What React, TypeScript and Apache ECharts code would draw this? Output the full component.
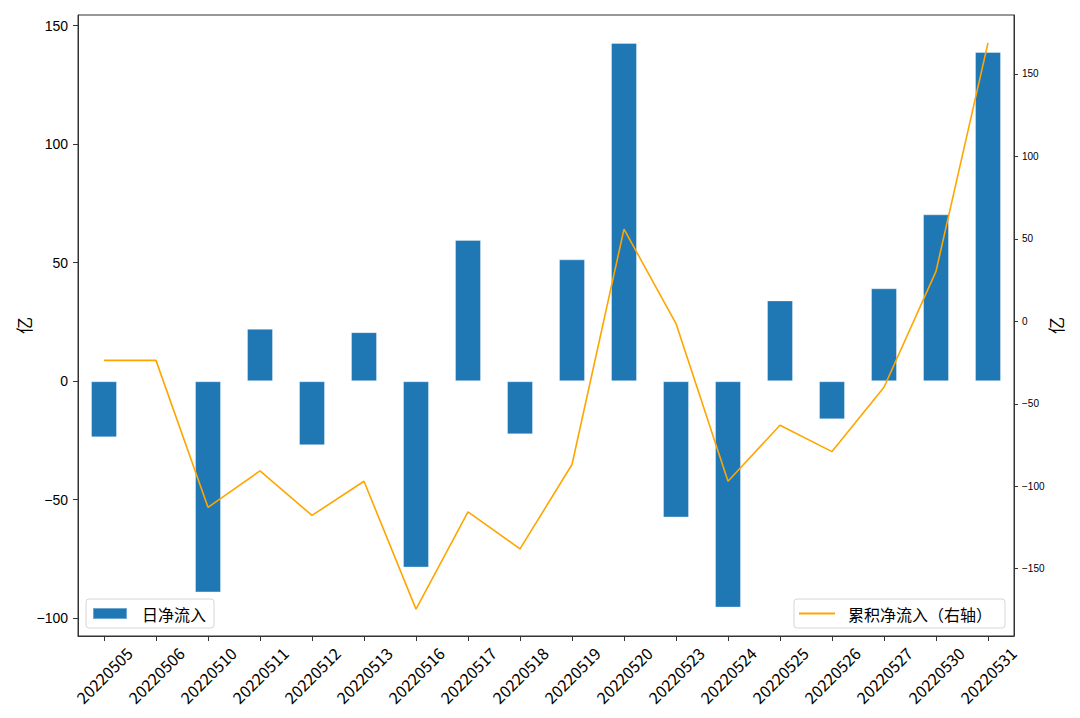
import React, { useEffect, useRef } from "react";
import * as echarts from "echarts";

const categories = [
  "20220505", "20220506", "20220510", "20220511", "20220512", "20220513",
  "20220516", "20220517", "20220518", "20220519", "20220520", "20220523",
  "20220524", "20220525", "20220526", "20220527", "20220530", "20220531",
];

// 日净流入 (亿)
const dailyNetInflow = [
  -23.7, 0, -89.1, 22.1, -27.0, 20.7, -78.6, 59.6, -22.4, 51.4, 142.7, -57.5,
  -95.5, 34.1, -16.1, 39.2, 70.4, 138.9,
];

// 累积净流入（右轴）(亿)
const cumulativeNetInflow = [
  -23.7, -23.7, -112.8, -90.7, -117.7, -97.0, -174.5, -115.5, -138.0, -86.8,
  55.9, -1.4, -97.0, -63.0, -79.0, -40.0, 30.3, 168.8,
];

const leftTicks = [-100, -50, 0, 50, 100, 150];
const rightTicks = [-150, -100, -50, 0, 50, 100, 150];

const fmt = (v: number) => (v < 0 ? "\u2212" + Math.abs(v) : String(v));

export default function App() {
  const ref = useRef<HTMLDivElement>(null);
  useEffect(() => {
    if (!ref.current) return;
    const chart = echarts.init(ref.current, null, { renderer: "svg" });
    const cjk = "'Noto Sans CJK SC', sans-serif";
    const num = "'Liberation Sans', Arial, sans-serif";
    chart.setOption({
      animation: false,
      backgroundColor: "#ffffff",
      grid: {
        left: 78,
        right: 66,
        top: 15,
        bottom: 82,
        show: true,
        borderColor: "#333",
        borderWidth: 1,
        containLabel: false,
      },
      legend: [
        {
          data: ["日净流入"],
          left: 86,
          top: 599,
          orient: "horizontal",
          icon: "rect",
          itemWidth: 34,
          itemHeight: 11,
          padding: [6, 8, 6, 6],
          backgroundColor: "rgba(255,255,255,0.8)",
          borderColor: "#d6d6d6",
          borderWidth: 1,
          borderRadius: 3,
          textStyle: {
            fontFamily: cjk,
            fontSize: 16,
            color: "#000",
            lineHeight: 17,
            padding: [0, 0, 0, 10],
          },
        },
        {
          data: ["累积净流入（右轴）"],
          right: 75,
          top: 599,
          orient: "horizontal",
          icon: "rect",
          itemWidth: 36,
          itemHeight: 2,
          padding: [6, 13, 6, 5],
          backgroundColor: "rgba(255,255,255,0.8)",
          borderColor: "#d6d6d6",
          borderWidth: 1,
          borderRadius: 3,
          textStyle: {
            fontFamily: cjk,
            fontSize: 16,
            color: "#000",
            lineHeight: 17,
            padding: [0, 0, 0, 8],
          },
        },
      ],
      xAxis: {
        type: "category",
        data: categories,
        boundaryGap: true,
        axisLine: { show: true, onZero: false, lineStyle: { color: "#333", width: 1 } },
        axisTick: { show: true, alignWithLabel: true, length: 5, lineStyle: { color: "#333" } },
        axisLabel: {
          rotate: 45,
          interval: 0,
          margin: 39,
          align: "center",
          verticalAlign: "middle",
          fontFamily: cjk,
          fontSize: 16,
          color: "#000",
        },
        splitLine: { show: false },
      },
      yAxis: [
        {
          type: "value",
          min: -107.5,
          max: 154.5,
          name: "亿",
          nameLocation: "middle",
          nameRotate: 90,
          nameGap: 46,
          nameMoveOverlap: false,
          nameTextStyle: { fontFamily: cjk, fontSize: 17, color: "#000" },
          axisLine: { show: true, lineStyle: { color: "#333" } },
          axisTick: { show: true, length: 5, lineStyle: { color: "#333" }, customValues: leftTicks },
          axisLabel: {
            customValues: leftTicks,
            formatter: fmt,
            margin: 10,
            fontFamily: num,
            fontSize: 14,
            color: "#000",
          },
          splitLine: { show: false },
        },
        {
          type: "value",
          min: -190.8,
          max: 185.7,
          name: "亿",
          nameLocation: "middle",
          nameRotate: 90,
          nameGap: 33,
          nameMoveOverlap: false,
          nameTextStyle: { fontFamily: cjk, fontSize: 17, color: "#000" },
          axisLine: { show: true, lineStyle: { color: "#333" } },
          axisTick: { show: true, length: 4, lineStyle: { color: "#333" }, customValues: rightTicks },
          axisLabel: {
            customValues: rightTicks,
            formatter: fmt,
            margin: 8,
            fontFamily: num,
            fontSize: 10,
            color: "#000",
          },
          splitLine: { show: false },
        },
      ],
      series: [
        {
          name: "日净流入",
          type: "bar",
          data: dailyNetInflow,
          yAxisIndex: 0,
          barWidth: "50%",
          color: "#1f77b4",
          itemStyle: {
            color: "#1f77b4",
            borderColor: "rgba(255,255,255,0.35)",
            borderWidth: 1,
          },
        },
        {
          name: "累积净流入（右轴）",
          type: "line",
          data: cumulativeNetInflow,
          yAxisIndex: 1,
          color: "#FFA500",
          symbol: "none",
          lineStyle: { color: "#FFA500", width: 1.6 },
          itemStyle: { color: "#FFA500" },
          z: 3,
        },
      ],
    });
    return () => chart.dispose();
  }, []);
  return <div ref={ref} style={{ width: 1080, height: 718, position: "fixed", left: 0, top: 0 }} />;
}
